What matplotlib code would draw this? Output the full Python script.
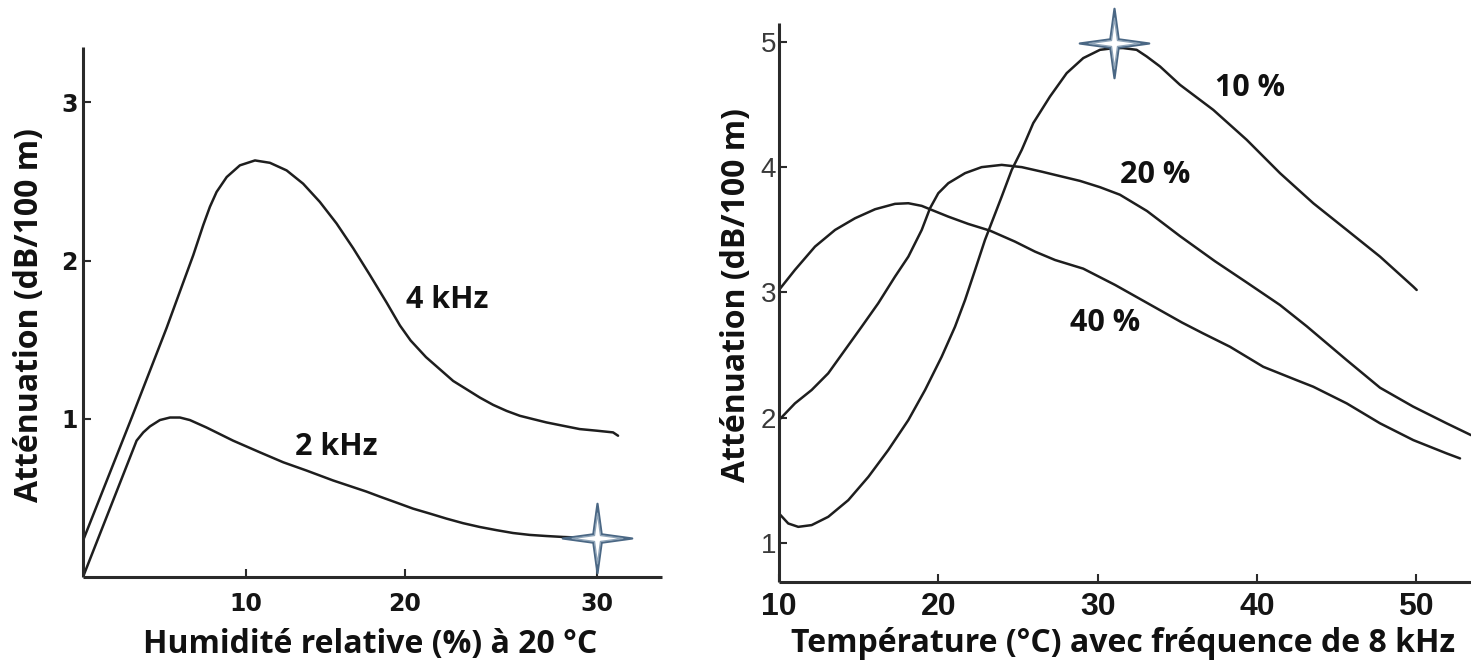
import numpy as np
import matplotlib
matplotlib.use("Agg")
import matplotlib.pyplot as plt
from matplotlib.path import Path

# ---------------- data ----------------
# Left panel: attenuation vs relative humidity at 20 °C
hum_4k = [0, 3.0, 5.13, 5.95, 6.77, 7.38, 7.79, 8.20, 8.82, 9.63, 10.57, 11.51, 12.56,
          13.60, 14.65, 15.70, 16.75, 17.80, 18.85, 19.69, 20.3, 21.1, 22.52, 23.21, 23.91,
          24.6, 25.3, 25.99, 26.68, 27.38, 28.24, 29.11, 29.98, 30.85, 31.11]
att_4k = [0.23, 1.01, 1.574, 1.805, 2.035, 2.224, 2.340, 2.434, 2.528, 2.602, 2.633,
          2.618, 2.570, 2.486, 2.371, 2.235, 2.078, 1.909, 1.735, 1.590, 1.495, 1.39, 1.239,
          1.187, 1.134, 1.088, 1.050, 1.019, 0.998, 0.977, 0.956, 0.935, 0.925, 0.914,
          0.893]
hum_2k = [0, 3.29, 3.70, 4.11, 4.72, 5.34, 5.95, 6.56, 7.58, 9.21, 10.88, 12.35, 13.81,
          15.49, 17.58, 18.43, 19.48, 20.43, 21.30, 22.17, 23.04, 23.91, 24.78, 25.64,
          26.51, 27.38, 28.25, 29.11, 30.0]
att_2k = [0.0, 0.862, 0.914, 0.952, 0.992, 1.008, 1.008, 0.992, 0.945, 0.862, 0.788,
          0.725, 0.673, 0.610, 0.540, 0.508, 0.470, 0.432, 0.401, 0.369, 0.340, 0.316,
          0.296, 0.278, 0.266, 0.259, 0.253, 0.249, 0.245]
left_xticks = [10, 20, 30]
left_yticks = [1, 2, 3]
left_labels = ["4 kHz", "2 kHz"]
left_label_pos = [(22.2, 1.75), (15.7, 0.82)]
left_star = (30.0, 0.245)

# Right panel: attenuation vs temperature at 8 kHz
temp_10 = [10.0, 10.58, 11.21, 12.05, 13.09, 14.35, 15.61, 16.86, 18.12, 19.17, 20.21,
           21.05, 21.68, 22.31, 22.93, 23.98, 24.61, 25.24, 25.96, 27.01, 28.06, 29.1,
           30.15, 30.99, 31.6, 32.45, 33.08, 33.92, 35.17, 37.26, 39.36, 41.45, 43.54,
           45.64, 47.73, 49.82, 50.03]
att_10 = [1.237, 1.157, 1.130, 1.144, 1.210, 1.343, 1.529, 1.743, 1.982, 2.222, 2.487,
          2.727, 2.940, 3.180, 3.419, 3.765, 3.978, 4.138, 4.351, 4.563, 4.750, 4.870,
          4.936, 4.949, 4.950, 4.936, 4.883, 4.803, 4.657, 4.457, 4.218, 3.952, 3.712,
          3.499, 3.286, 3.046, 3.020]
temp_20 = [10, 11.0, 12.05, 13.09, 14.14, 15.19, 16.23, 17.28, 18.12, 18.96, 19.48, 20.0,
           20.63, 21.68, 22.72, 23.98, 25.24, 26.49, 27.33, 28.9, 30.15, 31.4, 33.1, 35.17,
           37.36, 39.36, 41.45, 43.13, 45.64, 47.73, 49.8, 51.91, 53.44]
att_20 = [1.982, 2.115, 2.222, 2.355, 2.541, 2.727, 2.914, 3.126, 3.286, 3.499, 3.672,
          3.792, 3.872, 3.952, 4.0, 4.018, 4.0, 3.964, 3.938, 3.89, 3.84, 3.78, 3.65, 3.45,
          3.25, 3.08, 2.90, 2.73, 2.46, 2.24, 2.09, 1.956, 1.862]
temp_40 = [10, 11.0, 12.26, 13.52, 14.77, 16.03, 17.28, 18.12, 18.96, 19.48, 20.63, 21.88,
           23.25, 24.81, 26.07, 27.33, 29.1, 31.1, 33.2, 35.3, 36.6, 38.31, 40.4, 42.5,
           43.54, 45.64, 47.73, 49.82, 51.91, 52.75]
att_40 = [3.02, 3.18, 3.366, 3.499, 3.592, 3.664, 3.707, 3.712, 3.691, 3.664, 3.605, 3.547,
          3.493, 3.406, 3.326, 3.259, 3.19, 3.06, 2.91, 2.76, 2.675, 2.567, 2.407, 2.30,
          2.248, 2.115, 1.956, 1.822, 1.716, 1.676]
right_xticks = [10, 20, 30, 40, 50]
right_yticks = [1, 2, 3, 4, 5]
right_labels = ["10 %", "20 %", "40 %"]
right_label_pos = [(39.6, 4.63), (33.6, 3.94), (30.5, 2.76)]
right_star = (31.0, 4.99)

left_xlabel = "Humidité relative (%) à 20 °C"
right_xlabel = "Température (°C) avec fréquence de 8 kHz"
ylabel = "Atténuation (dB/100 m)"

# ---------------- styling ----------------
W, H = 1471, 663
fig = plt.figure(figsize=(W / 100, H / 100), dpi=100)
fig.patch.set_facecolor("white")

LINE = "#1e1e1e"
AXC = "#2a2a2a"
STARC = "#4a6784"
TXT = ["Open Sans", "DejaVu Sans"]


def px_axes(x0, y0, x1, y1):
    return fig.add_axes([x0 / W, 1 - y1 / H, (x1 - x0) / W, (y1 - y0) / H])


# hand-drawn humidity axis: uneven tick spacing
H_nodes = [-100, 0, 10, 20, 30, 100]
P_nodes = [-1630, 0, 163, 322, 514, 514 + 70 * 19.2]


def fwd(x):
    return np.interp(x, H_nodes, P_nodes)


def inv(p):
    return np.interp(p, P_nodes, H_nodes)


a = 0.12
star_path = Path([(0, 1), (a, a), (1, 0), (a, -a), (0, -1), (-a, -a), (-1, 0), (-a, a), (0, 1)],
                 [Path.MOVETO] + [Path.LINETO] * 7 + [Path.CLOSEPOLY])


def draw_star(ax, x, y):
    ax.plot([x], [y], marker=star_path, markersize=50, markerfacecolor="white",
            markeredgecolor=STARC, markeredgewidth=1.6, zorder=5, clip_on=False)
    ax.plot([x], [y], marker=star_path, markersize=36, markerfacecolor="none",
            markeredgecolor="#8fa4b8", markeredgewidth=1.0, zorder=6, clip_on=False)


def style(ax):
    for s in ("top", "right"):
        ax.spines[s].set_visible(False)
    for s in ("left", "bottom"):
        ax.spines[s].set_linewidth(2.2)
        ax.spines[s].set_color(AXC)
        ax.spines[s].set_capstyle("butt")
    ax.tick_params(direction="in", length=6, width=1.5, color=AXC)
    ax.set_facecolor("none")


# ---- left panel ----
axL = px_axes(83, 47, 662, 577)
axL.set_xscale("function", functions=(fwd, inv))
axL.set_xlim(0, 33.4)
axL.set_ylim(0, 3.35)
style(axL)
axL.plot(hum_4k, att_4k, color=LINE, lw=1.8, solid_capstyle="round", solid_joinstyle="round")
axL.plot(hum_2k, att_2k, color=LINE, lw=1.8, solid_capstyle="round", solid_joinstyle="round")
axL.set_xticks(left_xticks)
axL.set_yticks(left_yticks)
axL.set_xticklabels([str(t) for t in left_xticks], family="DejaVu Sans", weight="bold",
                    fontsize=17, color="#151515")
axL.set_yticklabels([str(t) for t in left_yticks], family="DejaVu Sans", weight="bold",
                    fontsize=17, color="#151515")
axL.tick_params(axis="x", pad=11)
axL.tick_params(axis="y", pad=4)
for txt, (x, y) in zip(left_labels, left_label_pos):
    axL.text(x, y, txt, ha="center", va="center", fontsize=22, weight="bold",
             family=TXT, color="#111111")
draw_star(axL, *left_star)

# ---- right panel ----
axR = px_axes(779, 23, 1471, 582)
axR.set_xlim(10, 53.44)
axR.set_ylim(0.69, 5.15)
style(axR)
for tx, vy in ((temp_10, att_10), (temp_20, att_20), (temp_40, att_40)):
    axR.plot(tx, vy, color=LINE, lw=1.8, solid_capstyle="round", solid_joinstyle="round")
axR.set_xticks(right_xticks)
axR.set_yticks(right_yticks)
axR.set_xticklabels([str(t) for t in right_xticks], family="Liberation Sans",
                    weight="bold", fontsize=23, color="#151515")
axR.set_yticklabels([str(t) for t in right_yticks], family="Liberation Sans",
                    weight="normal", fontsize=20, color="#3a3a3a")
axR.tick_params(axis="x", pad=7)
axR.tick_params(axis="y", pad=2)
for txt, (x, y) in zip(right_labels, right_label_pos):
    axR.text(x, y, txt, ha="center", va="center", fontsize=22, weight="bold",
             family=TXT, color="#111111")
draw_star(axR, *right_star)


# ---- axis titles (placed in figure pixels) ----
def ftext(x, y, s, **kw):
    fig.text(x / W, 1 - y / H, s, family=TXT, weight="bold", fontsize=23,
             color="#111111", ha="center", va="center", **kw)


ftext(370, 644, left_xlabel)
ftext(1123, 643, right_xlabel)
ftext(30, 315, ylabel, rotation=90)
ftext(737, 295, ylabel, rotation=90)

fig.savefig("out.png", dpi=100, facecolor="white")
